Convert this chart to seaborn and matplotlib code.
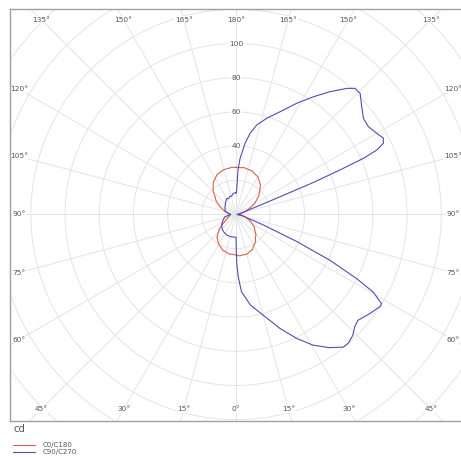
import numpy as np
import matplotlib
matplotlib.use("Agg")
import matplotlib.pyplot as plt
import seaborn as sns

# ── data: gamma angle from nadir (deg) and luminous intensity (cd) ───────────
c0_gamma = list(range(0, 181, 5))
c0_cd = [23.7, 24.3, 24.0, 24.1, 23.2, 22.5, 20.8, 19.8, 17.6, 16.5, 14.3,
         13.1, 10.8, 9.3, 7.0, 5.6, 3.7, 2.5, 1.5, 2.0, 3.1, 4.3, 6.2, 9.0,
         12.2, 14.6, 17.4, 19.6, 22.2, 23.7, 25.5, 26.1, 27.2, 27.3, 27.8,
         27.5, 27.6]

c180_gamma = list(range(0, 181, 5))
c180_cd = [23.7, 23.4, 23.5, 22.7, 22.4, 21.1, 20.2, 18.6, 17.4, 14.6, 12.5,
           9.2, 7.1, 5.8, 5.1, 4.2, 3.9, 3.5, 3.5, 4.3, 5.1, 6.5, 7.9, 10.2,
           12.0, 14.4, 15.9, 18.9, 20.8, 23.2, 24.4, 26.0, 26.5, 27.2, 27.3,
           27.7, 27.6]

c90_gamma = [0, 0.3, 0.8, 2, 4, 9, 15, 21, 26, 30.5, 35, 39, 41, 44, 46.5, 49,
             53.5, 57.5, 58.5, 60.5, 62, 64, 66, 69, 78, 90, 100, 108, 111.5,
             112.5, 113.2, 113.8, 114.6, 115.8, 117.4, 120, 123.6, 127, 130.6,
             134.3, 136.7, 138.7, 142.6, 146.7, 151.4, 156.8, 162.3, 167,
             170.2, 172.8, 175.9, 177.5, 178.5, 180]
c90_cd = [13.4, 20.0, 28.5, 36.4, 45.3, 53.6, 60.9, 71.3, 80.6, 88.7, 95.1,
          99.8, 99.9, 98.3, 95.6, 94.4, 97.4, 100.0, 99.8, 92.1, 79.8, 61.1,
          38.9, 17.1, 4.0, 0.5, 1.5, 5.0, 20.0, 49.1, 66.1, 81.4, 90.5, 95.7,
          97.0, 95.0, 92.9, 93.3, 96.8, 101.4, 101.4, 98.2, 90.4, 82.4, 74.1,
          65.4, 59.1, 53.7, 48.2, 42.0, 32.9, 26.0, 14.3, 12.6]

c270_gamma = [0, 2.5, 15, 24, 36, 45, 54, 66, 79, 90, 99, 105, 112, 125, 141,
              150, 155, 160, 166, 172.7, 177, 180]
c270_cd = [13.4, 13.3, 13.4, 13.2, 12.5, 11.6, 10.4, 8.4, 6.6, 3.0, 4.6, 6.2,
           7.0, 7.9, 9.6, 10.8, 10.2, 11.2, 11.0, 12.5, 12.6, 12.6]

ring_values = [20, 40, 60, 80, 100, 120, 140, 160, 180]
ring_labels = [40, 60, 80, 100]
angle_ticks = list(range(0, 181, 15))
series_names = ["C0/C180", "C90/C270"]

RED = "#d9604e"
BLUE = "#4e4eb2"
GRID = "#e4e4e4"
TXT = "#555555"


def to_xy(gamma, cd, side):
    g = np.radians(np.asarray(gamma, dtype=float))
    r = np.asarray(cd, dtype=float)
    return side * r * np.sin(g), -r * np.cos(g)


def closed_curve(g_left, cd_left, g_right, cd_right):
    xl, yl = to_xy(g_left, cd_left, -1)
    xr, yr = to_xy(g_right, cd_right, 1)
    return np.r_[xl[::-1], xr], np.r_[yl[::-1], yr]


sns.set_theme(style="white")
plt.rcParams["font.family"] = ["DejaVu Sans"]

fig = plt.figure(figsize=(4.61, 4.57), dpi=100)
ax = fig.add_axes([10 / 461, 36 / 457, 454 / 461, 412 / 457])
ax.set_xlim(-132.2, 133.3)
ax.set_ylim(-120.8, 120.2)
ax.set_xticks([]); ax.set_yticks([])
for sp in ax.spines.values():
    sp.set_color("#a0a0a0")
    sp.set_linewidth(1.0)

# polar grid
th = np.linspace(0, 2 * np.pi, 400)
for rv in ring_values:
    ax.plot(rv * np.cos(th), rv * np.sin(th), color=GRID, lw=0.7, zorder=1)
for a in range(0, 360, 15):
    ar = np.radians(a)
    ax.plot([0, 200 * np.sin(ar)], [0, -200 * np.cos(ar)], color=GRID, lw=0.7, zorder=1)

# ring labels along the vertical
for rv in ring_labels:
    ax.text(0, rv, str(rv), ha="center", va="center", fontsize=5.3, color=TXT,
            bbox=dict(fc="white", ec="none", pad=0.3), zorder=2)

# angle labels on an inset rectangle
XI, YI = 127.0, 114.0
for g in angle_ticks:
    for side in ([1] if g in (0, 180) else [-1, 1]):
        dx, dy = side * np.sin(np.radians(g)), -np.cos(np.radians(g))
        t = min(XI / abs(dx) if abs(dx) > 1e-9 else 1e9,
                YI / abs(dy) if abs(dy) > 1e-9 else 1e9)
        ax.text(t * dx, t * dy, f"{g}°", ha="center", va="center", fontsize=5.3,
                color=TXT, bbox=dict(fc="white", ec="none", pad=0.4), zorder=2)

# curves
rx, ry = closed_curve(c180_gamma, c180_cd, c0_gamma, c0_cd)
bx, by = closed_curve(c270_gamma, c270_cd, c90_gamma, c90_cd)
sns.lineplot(x=rx, y=ry, sort=False, estimator=None, color=RED, lw=0.8,
             label=series_names[0], ax=ax, zorder=3)
sns.lineplot(x=bx, y=by, sort=False, estimator=None, color=BLUE, lw=0.8,
             label=series_names[1], ax=ax, zorder=4)

ax.text(0.007, -0.007, "cd", transform=ax.transAxes, ha="left", va="top",
        fontsize=7.2, color=TXT)
ax.legend(loc="upper left", bbox_to_anchor=(0.007, -0.051), frameon=False,
          fontsize=5, handlelength=3.2, handletextpad=1.1, labelspacing=0.15,
          borderpad=0, borderaxespad=0, labelcolor=TXT)

fig.savefig("out.png", dpi=100)
